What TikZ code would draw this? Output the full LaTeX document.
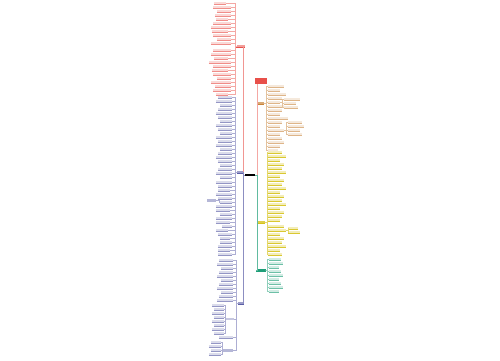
\documentclass[tikz,border=0pt]{standalone}
\definecolor{cR}{HTML}{E8504A}
\definecolor{cB}{HTML}{5B5EA6}
\definecolor{cO}{HTML}{C8843A}
\definecolor{cY}{HTML}{D6C21A}
\definecolor{cG}{HTML}{1E9E78}
\tikzset{
  lf/.style={rectangle, inner sep=0pt, minimum height=2.2pt, draw=none},
  br/.style={rectangle, inner sep=0pt, minimum height=2.8pt, draw=none},
  cn/.style={line width=0.3pt},
  ul/.style={line width=0.25pt}
}
\begin{document}
\begin{tikzpicture}[x=1pt,y=-1pt]
\useasboundingbox[fill=white] (0,0) rectangle (500,360);
% root and branch nodes
\node[br, fill=black, minimum width=10pt] (K) at (250,175) {};
\node[br, fill=cR!55, minimum width=8pt] (Rn) at (240.5,46) {};
\node[br, fill=cB!60, minimum width=6pt] (B1) at (240,172) {};
\node[br, fill=cB!60, minimum width=6pt] (B2) at (241,303) {};
\node[br, fill=cO!70, minimum width=7pt] (O) at (260.5,103) {};
\node[br, fill=cR, minimum width=12pt, minimum height=6pt] (RB) at (261,81) {};
\node[br, fill=cY!80, minimum width=8pt] (Y) at (261,222) {};
\node[br, fill=cG, minimum width=9pt] (G) at (261,270) {};
\foreach \n/\c in {Rn/cR,B1/cB,B2/cB,O/cO,Y/cY,G/cG}{
  \draw[ul,\c] (\n.south west) -- (\n.south east);}
% trunks
\draw[cn,cR!60] (K.west) -- ++(-1.5,0) |- (Rn.east);
\draw[cn,cB!70] (K.west) -- ++(-1.5,0) |- (B1.east);
\draw[cn,cB!70] (K.west) -- ++(-1.5,0) |- (B2.east);
\draw[cn,cO!60] (K.east) -- ++(1.5,0) coordinate (kt) |- (O.west);
\draw[cn,cR!50] (kt) -- (kt |- RB.south);
\draw[cn,cY!80] (K.east) -- ++(1.5,0) |- (Y.west);
\draw[cn,cG!70] (K.east) -- ++(1.5,0) |- (G.west);
% red leaves
\foreach \y/\w/\xr [count=\i] in {3/12/226, 7/18/231, 11/14/231, 15/16/231, 19/12/228, 23/18/231, 27/20/231, 31/16/228, 35/18/231, 39/14/231, 43/20/231, 50/18/231, 54/20/231, 58/14/228, 62/22/231, 66/18/231, 70/16/228, 74/18/231, 78/14/231, 82/20/231, 86/16/231, 90/18/231, 94/12/228}{
  \node[lf, fill=cR!22, minimum width=\w pt] (r\i) at ({\xr-\w/2},\y) {};
  \draw[ul,cR!65] (r\i.south west) -- (r\i.south east);
  \draw[cn,cR!50] (Rn.west) -- ++(-1.5,0) |- (r\i.east);
}
% blue leaves B1
\foreach \y/\w/\xr [count=\i] in {97/14/232, 101/16/232, 105/12/232, 109/14/232, 113/16/232, 117/14/232, 121/12/232, 125/16/232, 129/14/232, 133/12/232, 137/16/232, 141/14/232, 145/16/232, 149/12/232, 153/14/232, 157/16/232, 161/14/232, 165/12/232, 169/14/232, 173/16/232, 177/12/232, 182/16/232, 186/14/232, 190/12/230, 194/16/232, 198/14/232, 202/12/232, 206/16/232, 210/14/230, 214/12/232, 218/16/232, 222/14/230, 226/10/232, 230/12/228, 234/14/232, 238/10/230, 242/12/232, 246/14/232, 250/12/230, 254/14/232}{
  \node[lf, fill=cB!22, minimum width=\w pt] (b\i) at ({\xr-\w/2},\y) {};
  \draw[ul,cB!65] (b\i.south west) -- (b\i.south east);
  \draw[cn,cB!50] (B1.west) -- ++(-1.5,0) |- (b\i.east);
}
\node[br, fill=cB!45, minimum width=9pt, minimum height=3pt] (BG) at (211.5,200) {};
\draw[cn,cB!50] (b27.west) -- ++(-1,0) |- (BG.east);
% blue leaves B2
\foreach \y/\w/\xr [count=\i] in {260/14/233, 264/16/233, 268/12/233, 272/14/233, 276/16/233, 280/12/233, 284/14/233, 288/16/233, 292/12/233, 296/14/233, 300/16/233, 337/14/233}{
  \node[lf, fill=cB!22, minimum width=\w pt] (c\i) at ({\xr-\w/2},\y) {};
  \draw[ul,cB!65] (c\i.south west) -- (c\i.south east);
  \draw[cn,cB!50] (B2.west) -- ++(-1.5,0) |- (c\i.east);
}
\node[lf, fill=cB!35, minimum width=8pt] (S1) at (230,319) {};
\draw[cn,cB!50] (B2.west) -- ++(-1.5,0) |- (S1.east);
\foreach \y/\w [count=\i] in {305/12, 309/10, 313/12, 317/10, 321/12, 325/10, 329/12, 333/10}{
  \node[lf, fill=cB!22, minimum width=\w pt] (d\i) at ({224-\w/2},\y) {};
  \draw[ul,cB!65] (d\i.south west) -- (d\i.south east);
  \draw[cn,cB!50] (S1.west) -- ++(-1,0) |- (d\i.east);
}
\node[br, fill=cB!45, minimum width=10pt, minimum height=3pt] (S2) at (228,350) {};
\draw[cn,cB!50] (B2.west) -- ++(-1.5,0) |- (S2.east);
\foreach \y/\w [count=\i] in {342/10, 346/12, 350/10, 354/12}{
  \node[lf, fill=cB!22, minimum width=\w pt] (e\i) at ({221-\w/2},\y) {};
  \draw[ul,cB!65] (e\i.south west) -- (e\i.south east);
  \draw[cn,cB!50] (S2.west) -- ++(-0.5,0) |- (e\i.east);
}
% orange leaves
\foreach \y/\w [count=\i] in {86/16, 90/12, 94/18, 98/14, 102/12, 106/16, 110/14, 114/12, 118/20, 122/14, 126/12, 130/16, 134/12, 138/14, 142/16, 146/12, 150/10}{
  \node[lf, fill=cO!18, minimum width=\w pt] (o\i) at ({268+\w/2},\y) {};
  \draw[ul,cO!60] (o\i.south west) -- (o\i.south east);
  \draw[cn,cO!50] (O.east) -- ++(1.5,0) |- (o\i.west);
}
\foreach \y/\w [count=\i] in {99/16, 103/12, 107/14}{
  \node[lf, fill=cO!18, minimum width=\w pt] (p\i) at ({284+\w/2},\y) {};
  \draw[ul,cO!60] (p\i.south west) -- (p\i.south east);
  \draw[cn,cO!50] (o5.east) -- ++(1.5,0) |- (p\i.west);
}
\foreach \y/\w [count=\i] in {122/14, 126/16, 130/12, 134/14}{
  \node[lf, fill=cO!18, minimum width=\w pt] (q\i) at ({288+\w/2},\y) {};
  \draw[ul,cO!60] (q\i.south west) -- (q\i.south east);
  \draw[cn,cO!50] (o12.east) -- ++(1.5,0) |- (q\i.west);
}
% yellow leaves
\foreach \y/\w [count=\i] in {152/14, 156/18, 160/12, 164/16, 168/14, 172/18, 176/12, 180/16, 184/14, 188/18, 192/12, 196/16, 200/14, 204/18, 208/12, 212/16, 216/14, 220/12, 226/16, 230/18, 234/12, 238/16, 242/14, 246/18, 250/12, 254/14}{
  \node[lf, fill=cY!30, minimum width=\w pt] (y\i) at ({268+\w/2},\y) {};
  \draw[ul,cY!90] (y\i.south west) -- (y\i.south east);
  \draw[cn,cY!65] (Y.east) -- ++(1.5,0) |- (y\i.west);
}
\foreach \y/\w [count=\i] in {228/10, 232/12}{
  \node[lf, fill=cY!30, minimum width=\w pt] (z\i) at ({288+\w/2},\y) {};
  \draw[ul,cY!90] (z\i.south west) -- (z\i.south east);
  \draw[cn,cY!65] (y20.east) -- ++(1.5,0) |- (z\i.west);
}
% green leaves
\foreach \y/\w [count=\i] in {259/12, 263/14, 267/10, 271/12, 275/14, 279/10, 283/12, 287/14, 291/10}{
  \node[lf, fill=cG!20, minimum width=\w pt] (g\i) at ({269+\w/2},\y) {};
  \draw[ul,cG!65] (g\i.south west) -- (g\i.south east);
  \draw[cn,cG!50] (G.east) -- ++(1.5,0) |- (g\i.west);
}
\end{tikzpicture}
\end{document}
